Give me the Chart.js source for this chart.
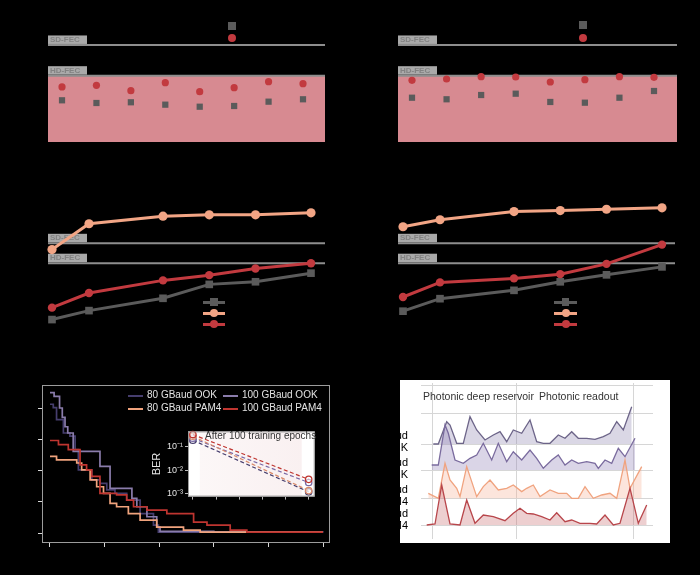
<!DOCTYPE html>
<html><head><meta charset="utf-8">
<script src="https://cdn.jsdelivr.net/npm/chart.js@4.4.1/dist/chart.umd.min.js"></script>
<style>
html,body{margin:0;padding:0;background:#000;width:700px;height:575px;overflow:hidden;font-family:"Liberation Sans",Arial,sans-serif;}
canvas{position:absolute;}
.t{position:absolute;white-space:nowrap;line-height:1;}
.k{position:absolute;}
</style></head><body>
<canvas id="ca" style="left:40px;top:15px" width="295" height="135"></canvas>
<canvas id="cb" style="left:390px;top:15px" width="295" height="135"></canvas>
<canvas id="cc" style="left:40px;top:195px" width="295" height="140"></canvas>
<canvas id="cd" style="left:390px;top:195px" width="295" height="140"></canvas>
<canvas id="ce" style="left:30px;top:380px" width="305" height="175"></canvas>
<canvas id="ci" style="left:150px;top:424px" width="170" height="80"></canvas>
<canvas id="cf" style="left:400px;top:375px" width="275" height="170"></canvas>
<div id="over"></div>
<script>
// ---------------- data ----------------
// panels a, b : 8 channels, log10(BER)
const channels = [1, 2, 3, 4, 5, 6, 7, 8];
const aGray = [-2.83, -2.875, -2.863, -2.903, -2.937, -2.925, -2.853, -2.813];
const aRed  = [-2.608, -2.58, -2.67, -2.537, -2.687, -2.62, -2.52, -2.553];
const bGray = [-2.787, -2.813, -2.742, -2.72, -2.858, -2.87, -2.787, -2.675];
const bRed  = [-2.497, -2.475, -2.437, -2.442, -2.525, -2.487, -2.437, -2.447];
const fecHD = -2.42;          // log10(3.8e-3)
const fecSD = -1.70;          // log10(2e-2)
const fecSDBroken = -1.908;   // SD-FEC level drawn on the broken upper segment of a/b
// panels c, d : sweep, log10(BER)
const sweepX  = [0, 2, 6, 8.5, 11, 14];
const cGray   = [-4.46, -4.136, -3.69, -3.186, -3.092, -2.78];
const cOrange = [-1.927, -0.992, -0.719, -0.668, -0.668, -0.596];
const cRed    = [-4.028, -3.499, -3.042, -2.852, -2.611, -2.42];
const dGray   = [-4.157, -3.704, -3.402, -3.093, -2.841, -2.553];
const dOrange = [-1.1, -0.848, -0.55, -0.514, -0.467, -0.416];
const dRed    = [-3.643, -3.114, -2.97, -2.816, -2.445, -1.747];
// panel e : training curves [epoch, loss]
const epochTicks = [0, 20, 40, 60, 80, 100];
const lossTicks = [0, 0.1, 0.2, 0.3, 0.4];
const ook80  = [[0,0.412],[1.2,0.401],[2.4,0.363],[4.9,0.32],[7.3,0.31],[9.2,0.267],[10.4,0.202],[15.3,0.17],[18.3,0.159],[20.8,0.138],[23.8,0.127],[28.1,0.105],[33,0.062],[37.9,0.025],[39.7,0.003],[100,0.002]];
const ook100 = [[0,0.449],[1.5,0.437],[3.5,0.40],[4.5,0.37],[5.5,0.34],[6.5,0.32],[8.5,0.261],[18.3,0.213],[22,0.143],[30,0.111],[31.8,0.084],[35.5,0.052],[39.1,0.019],[40.3,0.005],[60,0.003],[100,0.003]];
const pam80  = [[0,0.245],[2.4,0.234],[9.8,0.224],[11.6,0.202],[14.7,0.17],[17.1,0.148],[19.6,0.127],[22,0.095],[24.4,0.084],[28.7,0.062],[33,0.041],[39.1,0.019],[48.9,0.009],[55,0.003],[100,0.003]];
const pam100 = [[0,0.296],[3.1,0.283],[6.7,0.267],[11,0.218],[13.4,0.202],[15.3,0.181],[18.3,0.127],[24.4,0.122],[28.1,0.105],[30.6,0.084],[35.5,0.073],[42.8,0.062],[52.6,0.035],[57.5,0.025],[66,0.009],[72.1,0.003],[100,0.003]];
const seriesNames = ['80 GBaud OOK', '100 GBaud OOK', '80 GBaud PAM4', '100 GBaud PAM4'];
// inset : BER before / after 100 training epochs
const insetX = [0, 5];
const insetOok80  = [0.19, 1.2e-3];
const insetOok100 = [0.23, 3.0e-3];
const insetPam80  = [0.28, 1.36e-3];
const insetPam100 = [0.33, 4.1e-3];
const insetTicks = [1e-3, 1e-2, 1e-1];
// panel f : waterfall responses [position, amplitude]
const fOok80 = [[2.63,0],[3.13,0],[3.97,2.23],[4.3,1.9],[4.97,0.07],[5.63,0.07],[6.3,2.73],[6.97,1.4],[7.8,0.4],[8.63,0.9],[9.3,1.23],[9.97,0.23],[10.63,1.4],[11.47,1.07],[12.3,2.4],[12.97,0.23],[13.63,0.07],[14.3,0.07],[15.13,0.9],[15.8,0.57],[16.47,1.23],[17.13,0.57],[17.97,0.57],[18.8,0.47],[19.63,0.73],[20.3,1.07],[20.97,2.23],[21.63,1.4],[22.47,3.73]];
const fOok100 = [[2.47,0.5],[3.13,0.5],[3.8,4.5],[4.13,3.67],[4.8,1.0],[5.63,0.67],[6.3,1.17],[6.97,1.5],[7.63,2.67],[8.47,1.0],[9.13,2.67],[9.97,0.83],[10.63,1.83],[11.47,1.0],[12.3,2.0],[12.97,1.17],[13.63,0.17],[14.47,1.0],[15.13,1.5],[15.8,0.5],[16.47,1.0],[17.13,0.67],[17.97,0.83],[18.8,0.67],[19.13,0.17],[19.8,1.0],[20.47,0.67],[21.13,2.17],[21.8,1.33],[22.8,3.17]];
const fPam80 = [[2.13,0.5],[3.13,0],[3.8,3.5],[4.3,1.83],[4.97,1.0],[5.3,0.17],[5.97,3.17],[6.97,0.17],[7.63,1.17],[8.3,1.83],[9.13,0.83],[9.97,1.0],[10.63,1.33],[11.47,0.67],[11.97,1.0],[12.63,1.33],[13.3,0.17],[14.3,0.83],[15.13,0.5],[15.97,0.5],[16.47,0],[17.13,0],[17.8,1.17],[18.63,0],[19.47,0.33],[20.3,0.5],[20.97,0],[21.8,3.83],[22.3,1.0],[23.47,3.17]];
const fPam100 = [[1.97,0],[2.8,0.1],[3.47,4.0],[4.3,0.1],[5.3,0],[5.97,2.5],[6.8,0.17],[7.63,1.0],[8.63,0.83],[9.8,0.43],[10.63,1.17],[11.3,1.67],[11.97,1.17],[12.63,1.1],[13.47,0.83],[14.3,0.5],[14.97,1.23],[15.8,0.33],[16.47,0.5],[17.3,0.17],[18.3,0.17],[18.97,0.1],[19.8,1.0],[20.63,0],[21.3,0.17],[22.3,3.67],[23.13,0.17],[23.97,2.0]];
const fOffsets = [9.9, 7.3, 4.47, 1.8];
const fGridX = [2.5, 10.9, 22.6];
const fGridY = [1.8, 4.47, 7.3, 9.9, 13, 15.8];

// ---------------- styles ----------------
const GRAY = '#5b5b5b', RED = '#c23a3f', ORANGE = '#f2a585', LINE = '#8e8e8e', PINK = '#d78a91';
const PURD = '#463e6e', PURL = '#8a7cab', ORL = '#f0a37d', REDL = '#bf3530';
Chart.defaults.font.family = '"Liberation Sans", Arial, sans-serif';

const fecPlugin = {
  id: 'fecLabels',
  beforeDatasetsDraw(chart, args, opts) {
    const {ctx, chartArea} = chart; const y = chart.scales.y;
    (opts.items || []).forEach(it => {
      const py = y.getPixelForValue(it.v);
      ctx.save();
      ctx.fillStyle = '#a9a9a9';
      ctx.fillRect(chartArea.left, py - 9.5, 39, 8.5);
      ctx.fillStyle = '#828282';
      ctx.font = 'bold 8px "Liberation Sans", Arial, sans-serif';
      ctx.textBaseline = 'middle'; ctx.textAlign = 'left';
      ctx.fillText(it.text, chartArea.left + 2, py - 5.2);
      ctx.restore();
    });
  }
};
function baseOpts(xr, yr, pad, fec) {
  return {
    responsive: false, animation: false, events: [],
    layout: {padding: pad},
    plugins: {legend: {display: false}, tooltip: {enabled: false}, fecLabels: {items: fec || []}},
    scales: {
      x: {type: 'linear', display: false, min: xr[0], max: xr[1]},
      y: {type: 'linear', display: false, min: yr[0], max: yr[1]}
    }
  };
}
const pts = (xs, ys) => xs.map((x, i) => ({x, y: ys[i]}));
const hline = (xr, v) => [{x: xr[0], y: v}, {x: xr[1], y: v}];

function topPanel(id, xr, pad, gray, red) {
  new Chart(document.getElementById(id), {
    type: 'line',
    data: {datasets: [
      {label: 'red', data: pts(channels, red), showLine: false, pointStyle: 'circle', pointRadius: 3.6, pointBackgroundColor: RED, pointBorderColor: RED, pointBorderWidth: 0, order: 1, clip: false},
      {label: 'gray', data: pts(channels, gray), showLine: false, pointStyle: 'rect', pointRadius: 4.4, pointBackgroundColor: GRAY, pointBorderColor: GRAY, pointBorderWidth: 0, order: 2, clip: false},
      {label: 'SD-FEC', data: hline(xr, fecSDBroken), borderColor: LINE, borderWidth: 2, pointRadius: 0, fill: false, order: 3},
      {label: 'HD-FEC', data: hline(xr, fecHD), borderColor: LINE, borderWidth: 2, pointRadius: 0, fill: 'start', backgroundColor: PINK, order: 10}
    ]},
    options: baseOpts(xr, [-3.525, -1.492], pad, [{v: fecSDBroken, text: 'SD-FEC'}, {v: fecHD, text: 'HD-FEC'}]),
    plugins: [fecPlugin]
  });
}
topPanel('ca', [0.593, 8.639], {left: 8, top: 5, right: 10, bottom: 8}, aGray, aRed);
topPanel('cb', [0.595, 8.665], {left: 8, top: 5, right: 8, bottom: 8}, bGray, bRed);

function midPanel(id, xr, pad, gray, orange, red) {
  new Chart(document.getElementById(id), {
    type: 'line',
    data: {datasets: [
      {label: 'red', data: pts(sweepX, red), borderColor: RED, borderWidth: 3, pointStyle: 'circle', pointRadius: 4.2, pointBackgroundColor: RED, pointBorderWidth: 0, order: 1, clip: false},
      {label: 'orange', data: pts(sweepX, orange), borderColor: ORANGE, borderWidth: 3, pointStyle: 'circle', pointRadius: 4.6, pointBackgroundColor: ORANGE, pointBorderWidth: 0, order: 2, clip: false},
      {label: 'gray', data: pts(sweepX, gray), borderColor: GRAY, borderWidth: 3, pointStyle: 'rect', pointRadius: 5.4, pointBackgroundColor: GRAY, pointBorderWidth: 0, order: 3, clip: false},
      {label: 'SD-FEC', data: hline(xr, fecSD), borderColor: LINE, borderWidth: 2, pointRadius: 0, order: 8},
      {label: 'HD-FEC', data: hline(xr, fecHD), borderColor: LINE, borderWidth: 2, pointRadius: 0, order: 9}
    ]},
    options: baseOpts(xr, [-4.823, -0.147], pad, [{v: fecSD, text: 'SD-FEC'}, {v: fecHD, text: 'HD-FEC'}]),
    plugins: [fecPlugin]
  });
}
midPanel('cc', [-0.216, 14.757], {left: 8, top: 5, right: 10, bottom: 5}, cGray, cOrange, cRed);
midPanel('cd', [-0.270, 14.703], {left: 8, top: 5, right: 10, bottom: 5}, dGray, dOrange, dRed);

// ---------- panel e ----------
const framePlugin = {
  id: 'frame',
  beforeDraw(chart, a, o) {
    if (!o.bg) return;
    const {ctx, chartArea: c} = chart;
    ctx.save(); ctx.fillStyle = o.bg; ctx.fillRect(c.left, c.top, c.width, c.height);
    if (o.shade) {
      const x1 = chart.scales.x.getPixelForValue(o.shade[0]), x2 = chart.scales.x.getPixelForValue(o.shade[1]);
      const g = ctx.createLinearGradient(x1, 0, x2, 0);
      g.addColorStop(0, 'rgba(210,140,145,0.07)'); g.addColorStop(1, 'rgba(210,140,145,0.13)');
      ctx.fillStyle = g; ctx.fillRect(x1, c.top, x2 - x1, c.height);
    }
    ctx.restore();
  },
  afterDraw(chart, a, o) {
    const {ctx, chartArea: c} = chart;
    ctx.save(); ctx.strokeStyle = o.color || '#999'; ctx.lineWidth = 1;
    ctx.strokeRect(c.left + 0.5, c.top + 0.5, c.width - 1, c.height - 1);
    ctx.restore();
  }
};
const stepDs = (arr, color, label) => ({label, data: arr.map(p => ({x: p[0], y: p[1]})), borderColor: color, borderWidth: 1.7, pointRadius: 0, stepped: true, fill: false});
new Chart(document.getElementById('ce'), {
  type: 'line',
  data: {datasets: [stepDs(pam100, REDL, seriesNames[3]), stepDs(pam80, ORL, seriesNames[2]), stepDs(ook100, PURL, seriesNames[1]), stepDs(ook80, PURD, seriesNames[0])]},
  options: {
    responsive: false, animation: false, events: [],
    layout: {padding: {left: 0, top: 5, right: 5, bottom: 0}},
    plugins: {legend: {display: false}, tooltip: {enabled: false}, frame: {color: '#9c9c9c'}},
    scales: {
      x: {type: 'linear', min: -2.93, max: 102.56, afterBuildTicks: s => { s.ticks = epochTicks.map(v => ({value: v})); }, afterFit: s => { s.height = 12; },
          ticks: {display: false}, grid: {drawOnChartArea: false, drawTicks: true, tickLength: 4, color: '#d8d8d8'}, border: {display: false}},
      y: {type: 'linear', min: -0.032, max: 0.4736, afterBuildTicks: s => { s.ticks = lossTicks.map(v => ({value: v})); }, afterFit: s => { s.width = 12; },
          ticks: {display: false}, grid: {drawOnChartArea: false, drawTicks: true, tickLength: 4, color: '#d8d8d8'}, border: {display: false}}
    }
  },
  plugins: [framePlugin]
});

// ---------- inset ----------
const supMap = {'-': '⁻', '0': '⁰', '1': '¹', '2': '²', '3': '³', '4': '⁴'};
const insetDs = (ys, color, label) => ({label, data: pts(insetX, ys), borderColor: color, borderWidth: 1.2, borderDash: [4, 2.5],
  pointStyle: 'circle', pointRadius: 3.2, pointBorderColor: color, pointBorderWidth: 1.3, pointBackgroundColor: 'rgba(255,255,255,0.55)', clip: false});
new Chart(document.getElementById('ci'), {
  type: 'line',
  data: {datasets: [insetDs(insetPam100, REDL, seriesNames[3]), insetDs(insetPam80, '#d98a6a', seriesNames[2]), insetDs(insetOok100, '#7a6aa6', seriesNames[1]), insetDs(insetOok80, PURD, seriesNames[0])]},
  options: {
    responsive: false, animation: false, events: [],
    layout: {padding: {left: 0, top: 6, right: 4, bottom: 2}},
    plugins: {legend: {display: false}, tooltip: {enabled: false}, frame: {color: '#9c9c9c', bg: '#ffffff', shade: [0.3, 4.7]}},
    scales: {
      x: {type: 'linear', min: -0.21, max: 5.26, afterBuildTicks: s => { s.ticks = [0, 1, 2, 3, 4, 5].map(v => ({value: v})); }, afterFit: s => { s.height = 4; },
          ticks: {display: false}, grid: {drawOnChartArea: false, drawTicks: true, tickLength: 3, color: '#bbbbbb'}, border: {display: false}},
      y: {type: 'logarithmic', min: 7.55e-4, max: 0.45, afterBuildTicks: s => { s.ticks = insetTicks.map(v => ({value: v})); }, afterFit: s => { s.width = 38; },
          ticks: {color: '#e4e4e4', font: {size: 9}, padding: 2, callback: v => '10' + String(Math.round(Math.log10(v))).split('').map(ch => supMap[ch]).join('')},
          title: {display: true, text: 'BER', color: '#e4e4e4', font: {size: 11}, padding: 0},
          grid: {drawOnChartArea: false, drawTicks: true, tickLength: 3, color: '#bbbbbb'}, border: {display: false}}
    }
  },
  plugins: [framePlugin]
});

// ---------- panel f ----------
const panePlugin = {
  id: 'pane',
  beforeDatasetsDraw(chart, a, o) {
    const {ctx, chartArea: c} = chart; const sx = chart.scales.x, sy = chart.scales.y;
    ctx.save();
    ctx.fillStyle = '#ffffff'; ctx.fillRect(0, c.top, c.right, c.height);
    ctx.strokeStyle = '#d6d6d6'; ctx.lineWidth = 1;
    (o.xLines || []).forEach(v => { const p = Math.round(sx.getPixelForValue(v)) + 0.5; ctx.beginPath(); ctx.moveTo(p, c.top + 3); ctx.lineTo(p, c.bottom - 4); ctx.stroke(); });
    (o.yLines || []).forEach(v => { const p = Math.round(sy.getPixelForValue(v)) + 0.5; ctx.beginPath(); ctx.moveTo(sx.getPixelForValue(1.4), p); ctx.lineTo(sx.getPixelForValue(24.6), p); ctx.stroke(); });
    ctx.restore();
  }
};
const wfDs = (arr, off, line, fill, label) => ({label, data: arr.map(p => ({x: p[0], y: off + p[1]})), borderColor: line, borderWidth: 1.3, pointRadius: 0,
  fill: {value: off}, backgroundColor: fill, clip: false});
const fOpts = baseOpts([0, 26.3], [0, 16.3], {left: 7, top: 5, right: 5, bottom: 2});
fOpts.plugins.pane = {xLines: fGridX, yLines: fGridY};
new Chart(document.getElementById('cf'), {
  type: 'line',
  data: {datasets: [
    wfDs(fPam100, fOffsets[3], '#b8464b', 'rgba(200,105,110,0.32)', seriesNames[3]),
    wfDs(fPam80, fOffsets[2], '#f0a37f', 'rgba(245,175,145,0.32)', seriesNames[2]),
    wfDs(fOok100, fOffsets[1], '#7a6b9e', 'rgba(140,125,180,0.32)', seriesNames[1]),
    wfDs(fOok80, fOffsets[0], '#6c6488', 'rgba(140,130,175,0.32)', seriesNames[0])
  ]},
  options: fOpts,
  plugins: [panePlugin]
});

// ---------------- legends & texts (HTML) ----------------
const over = document.getElementById('over');
function el(cls, css, txt) { const d = document.createElement('div'); d.className = cls; d.style.cssText = css; if (txt !== undefined) d.textContent = txt; over.appendChild(d); return d; }
function marker(cx, cy, size, color, round) { el('k', `left:${cx - size / 2}px;top:${cy - size / 2}px;width:${size}px;height:${size}px;background:${color};border-radius:${round ? '50%' : '0'}`); }
function keyLine(x1, x2, y, color, w) { el('k', `left:${x1}px;top:${y - w / 2}px;width:${x2 - x1}px;height:${w}px;background:${color}`); }
// a, b legends
marker(232, 26, 8, GRAY, false); marker(232, 38, 8, RED, true);
marker(583, 25, 8, GRAY, false); marker(583, 38, 8, RED, true);
// c, d legends
[[203, 225], [554, 577]].forEach(([x1, x2]) => {
  const cx = (x1 + x2) / 2;
  keyLine(x1, x2, 302, GRAY, 3); marker(cx, 302, 7.5, GRAY, false);
  keyLine(x1, x2, 313, ORANGE, 3); marker(cx, 313, 8, ORANGE, true);
  keyLine(x1, x2, 324, RED, 3); marker(cx, 324, 8, RED, true);
});
// e legend
const eLeg = [[128, 396, PURD, 0], [223, 396, PURL, 1], [128, 409, ORL, 2], [223, 409, REDL, 3]];
eLeg.forEach(([x, y, c, i]) => { keyLine(x, x + 15, y, c, 1.8); el('t', `left:${x + 19}px;top:${y - 6}px;font-size:10px;color:#e2e2e2`, seriesNames[i]); });
el('t', 'left:205px;top:431px;font-size:10px;color:#333', 'After 100 training epochs');
// f texts
el('t', 'left:423px;top:391px;font-size:10.5px;color:#333', 'Photonic deep reservoir');
el('t', 'left:539px;top:391px;font-size:10.5px;color:#333', 'Photonic readout');
const fLab = [['80 GBaud', 436], ['OOK', 448], ['100 GBaud', 463], ['OOK', 475], ['80 GBaud', 490], ['PAM4', 502], ['100 GBaud', 514], ['PAM4', 526]];
fLab.forEach(([s, y]) => el('t', `right:292px;top:${y - 6}px;font-size:11px;color:#000;text-align:right`, s));
</script>
</body></html>
